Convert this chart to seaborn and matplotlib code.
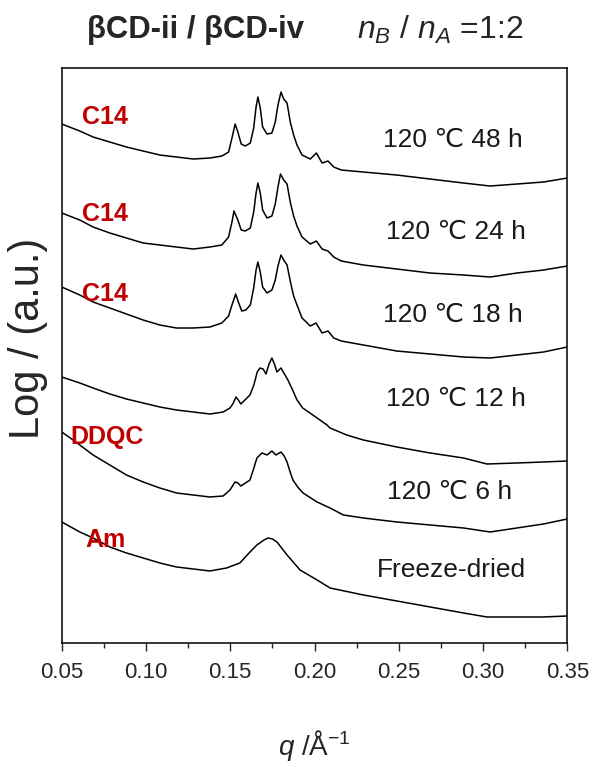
# Stacked SAXS curves, bCD-ii / bCD-iv  nB/nA = 1:2
import numpy as np
import pandas as pd
import matplotlib
matplotlib.use('Agg')
import matplotlib.pyplot as plt
from matplotlib.ticker import MultipleLocator
import seaborn as sns

# ---- data (arbitrary log intensity, already stacked) ----
q_48h = [0.050, 0.0607, 0.0686, 0.0785, 0.0884, 0.0983, 0.1082, 0.1181, 0.1280, 0.1379,
         0.1450, 0.1490, 0.1510, 0.1529, 0.1545, 0.1565, 0.1589, 0.1619, 0.1639, 0.1653,
         0.1664, 0.1678, 0.1692, 0.1718, 0.1747, 0.1767, 0.1783, 0.1801, 0.1817, 0.1837,
         0.1856, 0.1876, 0.1896, 0.1926, 0.1975, 0.2011, 0.2045, 0.2080, 0.2114, 0.2159,
         0.2290, 0.2488, 0.2686, 0.2884, 0.3042, 0.3201, 0.3359, 0.350]
i_48h = [519, 512, 506, 501, 496, 492, 488, 486, 484, 485,
         487, 491, 505, 519, 511, 499, 497, 500, 515, 536,
         546, 535, 516, 509, 510, 521, 538, 551, 544, 540,
         521, 508, 498, 488, 484, 490, 480, 482, 476, 473,
         471, 468, 464, 460, 457, 459, 461, 465]

q_24h = [0.050, 0.0607, 0.0686, 0.0785, 0.0884, 0.0983, 0.1082, 0.1181, 0.1280, 0.1379,
         0.1450, 0.1490, 0.1510, 0.1522, 0.1545, 0.1565, 0.1589, 0.1619, 0.1639, 0.1653,
         0.1664, 0.1678, 0.1692, 0.1718, 0.1747, 0.1767, 0.1783, 0.1798, 0.1817, 0.1837,
         0.1856, 0.1876, 0.1896, 0.1926, 0.1975, 0.2011, 0.2045, 0.2080, 0.2114, 0.2159,
         0.2290, 0.2488, 0.2686, 0.2884, 0.3042, 0.3201, 0.3359, 0.350]
i_24h = [430, 423, 416, 410, 405, 400, 398, 396, 394, 396,
         398, 406, 421, 432, 423, 413, 412, 415, 431, 450,
         460, 450, 433, 425, 427, 439, 456, 469, 463, 459,
         441, 427, 417, 406, 399, 402, 394, 392, 386, 382,
         378, 374, 370, 368, 366, 370, 373, 377]

q_18h = [0.050, 0.0607, 0.0686, 0.0785, 0.0884, 0.0983, 0.1082, 0.1181, 0.1280, 0.1379,
         0.1450, 0.1490, 0.1510, 0.1532, 0.1548, 0.1568, 0.1592, 0.1619, 0.1639, 0.1653,
         0.1664, 0.1678, 0.1692, 0.1718, 0.1747, 0.1767, 0.1783, 0.1801, 0.1817, 0.1837,
         0.1856, 0.1876, 0.1896, 0.1926, 0.1975, 0.2009, 0.2045, 0.2080, 0.2114, 0.2159,
         0.2290, 0.2488, 0.2686, 0.2884, 0.3042, 0.3201, 0.3359, 0.350]
i_18h = [356, 348, 341, 335, 329, 323, 318, 315, 315, 316,
         320, 327, 338, 349, 341, 332, 333, 338, 355, 373,
         381, 371, 356, 350, 353, 363, 377, 388, 383, 378,
         362, 347, 338, 325, 317, 320, 310, 312, 305, 302,
         298, 292, 289, 286, 285, 288, 291, 296]

q_12h = [0.050, 0.0607, 0.0686, 0.0785, 0.0884, 0.0983, 0.1082, 0.1181, 0.1280, 0.1379,
         0.1458, 0.1498, 0.1515, 0.1534, 0.1548, 0.1563, 0.1617, 0.1640, 0.1660, 0.1676,
         0.1695, 0.1712, 0.1730, 0.1747, 0.1762, 0.1777, 0.1801, 0.1842, 0.1870, 0.1896,
         0.1930, 0.1973, 0.2074, 0.2092, 0.2191, 0.2290, 0.2488, 0.2686, 0.2884, 0.3023,
         0.3201, 0.3359, 0.350]
i_12h = [266, 260, 255, 249, 244, 240, 236, 233, 231, 229,
         231, 235, 239, 246, 243, 239, 248, 258, 271, 275,
         274, 269, 279, 285, 279, 271, 275, 263, 253, 243,
         235, 230, 218, 215, 208, 203, 196, 190, 185, 179,
         180, 181, 182]

q_6h = [0.050, 0.0567, 0.0607, 0.0686, 0.0785, 0.0884, 0.0983, 0.1082, 0.1181, 0.1280,
        0.1379, 0.1458, 0.1498, 0.1528, 0.1545, 0.1563, 0.1617, 0.1640, 0.1658, 0.1688,
        0.1718, 0.1747, 0.1771, 0.1801, 0.1820, 0.1837, 0.1855, 0.1872, 0.1900, 0.1932,
        0.2015, 0.2092, 0.2171, 0.2290, 0.2488, 0.2686, 0.2884, 0.3042, 0.3201, 0.3359,
        0.350]
i_6h = [211, 203, 198, 188, 178, 168, 161, 155, 150, 148,
        146, 147, 153, 161, 160, 157, 163, 175, 185, 190,
        188, 192, 188, 191, 187, 181, 171, 163, 156, 150,
        141, 135, 128, 125, 121, 118, 115, 111, 115, 119,
        124]

q_fd = [0.050, 0.0607, 0.0686, 0.0785, 0.0884, 0.0983, 0.1082, 0.1181, 0.1280, 0.1379,
        0.1478, 0.1557, 0.1617, 0.1658, 0.1700, 0.1724, 0.1750, 0.1777, 0.1837, 0.1914,
        0.2015, 0.2092, 0.2290, 0.2488, 0.2686, 0.2884, 0.3023, 0.3201, 0.3359, 0.350]
i_fd = [121, 111, 105, 96, 90, 85, 80, 76, 74, 72,
        75, 80, 91, 98, 103, 105, 104, 101, 88, 73,
        63, 55, 48, 42, 36, 30, 26, 26, 26, 27]

samples = ['120 ℃ 48 h', '120 ℃ 24 h', '120 ℃ 18 h', '120 ℃ 12 h', '120 ℃ 6 h', 'Freeze-dried']
phases = ['C14', 'C14', 'C14', '', 'DDQC', 'Am']
q_lists = [q_48h, q_24h, q_18h, q_12h, q_6h, q_fd]
i_lists = [i_48h, i_24h, i_18h, i_12h, i_6h, i_fd]

# label anchors (data coords)
sample_xy = [(0.282, 503), (0.284, 411), (0.282, 328), (0.284, 244), (0.280, 151), (0.281, 73)]
phase_xy = [(0.0755, 526), (0.0755, 429), (0.0755, 349), None, (0.077, 206), (0.076, 103)]

sns.set_style('white')
plt.rcParams['font.family'] = ['Liberation Sans', 'DejaVu Sans']
plt.rcParams['mathtext.fontset'] = 'custom'
plt.rcParams['mathtext.rm'] = 'Liberation Sans'
plt.rcParams['mathtext.it'] = 'Liberation Sans:italic'
plt.rcParams['mathtext.bf'] = 'Liberation Sans:bold'

fig = plt.figure(figsize=(5.94, 7.67), dpi=100)
ax = fig.add_axes([0.104, 0.1617, 0.851, 0.7496])

for name, qs, ys in zip(samples, q_lists, i_lists):
    d = pd.DataFrame({'q': qs, 'I': ys})
    sns.lineplot(data=d, x='q', y='I', ax=ax, color='black', lw=1.1,
                 estimator=None, sort=False)

for name, (x, y) in zip(samples, sample_xy):
    ax.text(x, y, name, ha='center', va='center', fontsize=19, color='#1a1a1a')
for ph, xy in zip(phases, phase_xy):
    if xy:
        ax.text(xy[0], xy[1], ph, ha='center', va='center', fontsize=18,
                fontweight='bold', color='#c00000')

ax.set_xlim(0.05, 0.35)
ax.set_ylim(0, 575)
ax.xaxis.set_minor_locator(MultipleLocator(0.025))
ax.set_xticks(np.arange(0.05, 0.351, 0.05))
ax.set_xticklabels(['%.2f' % t for t in np.arange(0.05, 0.351, 0.05)])
ax.tick_params(axis='x', which='major', direction='out', length=6, width=1,
               labelsize=16, pad=8, bottom=True)
ax.tick_params(axis='x', which='minor', direction='out', length=3.5, width=1, bottom=True)
ax.set_yticks([])
for s in ax.spines.values():
    s.set_visible(True)
    s.set_color('black')
    s.set_linewidth(1.1)

ax.set_xlabel(r'$q$ /Å$^{-1}$', fontsize=20, labelpad=32)
ax.set_ylabel('Log / (a.u.)', fontsize=30)
ax.yaxis.set_label_coords(-0.028, 0.529)

fig.text(87 / 594, 1 - 30 / 767, 'βCD-ii / βCD-iv', fontsize=22.3, fontweight='bold',
         ha='left', va='center')
fig.text(357 / 594, 1 - 30 / 767, r'$n_B\ /\ n_A$ =1:2', fontsize=23,
         ha='left', va='center')

fig.savefig('out.png', dpi=100)
